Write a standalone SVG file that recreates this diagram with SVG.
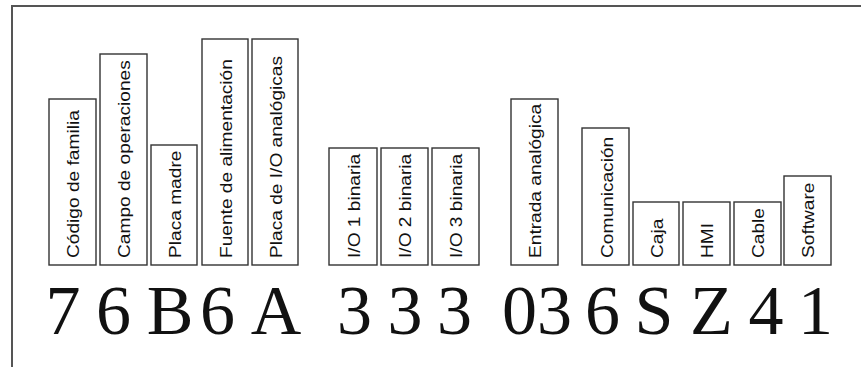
<svg xmlns="http://www.w3.org/2000/svg" width="861" height="367" viewBox="0 0 861 367">
<style>
.box{fill:#ffffff;stroke:#333333;stroke-width:1.4}
.lbl{font-family:"Liberation Sans",Arial,sans-serif;font-size:16.5px;fill:#111111}
.dig{font-family:"Liberation Serif","Times New Roman",serif;font-size:70px;fill:#111111;text-anchor:middle}
.frame{fill:none;stroke:#555555;stroke-width:2}
</style>
<rect x="0" y="0" width="861" height="367" fill="#ffffff"/>
<path class="frame" d="M12,367 V6 H861"/>
<g id="n1"><rect class="box" x="49" y="99" width="47" height="166"/><text class="lbl" transform="translate(79,258) rotate(-90) scale(1.16,1)">Código de familia</text><text class="dig" x="63" y="334">7</text></g>
<g id="n2"><rect class="box" x="100" y="54" width="47" height="211"/><text class="lbl" transform="translate(130,258) rotate(-90) scale(1.16,1)">Campo de operaciones</text><text class="dig" x="113.5" y="334">6</text></g>
<g id="n3"><rect class="box" x="151" y="145" width="46" height="120"/><text class="lbl" transform="translate(180.5,258) rotate(-90) scale(1.16,1)">Placa madre</text><text class="dig" x="170" y="334">B</text></g>
<g id="n4"><rect class="box" x="202" y="39" width="46" height="226"/><text class="lbl" transform="translate(231.5,258) rotate(-90) scale(1.16,1)">Fuente de alimentación</text><text class="dig" x="217.5" y="334">6</text></g>
<g id="n5"><rect class="box" x="252" y="39" width="46" height="226"/><text class="lbl" transform="translate(281.5,258) rotate(-90) scale(1.16,1)">Placa de I/O analógicas</text><text class="dig" x="276" y="334">A</text></g>
<g id="n6"><rect class="box" x="329" y="148" width="48" height="117"/><text class="lbl" transform="translate(359.5,258) rotate(-90) scale(1.16,1)">I/O 1 binaria</text><text class="dig" x="354.5" y="334">3</text></g>
<g id="n7"><rect class="box" x="381" y="148" width="47" height="117"/><text class="lbl" transform="translate(411,258) rotate(-90) scale(1.16,1)">I/O 2 binaria</text><text class="dig" x="405" y="334">3</text></g>
<g id="n8"><rect class="box" x="432" y="148" width="47" height="117"/><text class="lbl" transform="translate(462,258) rotate(-90) scale(1.16,1)">I/O 3 binaria</text><text class="dig" x="454.5" y="334">3</text></g>
<g id="n9"><rect class="box" x="511" y="99" width="47" height="166"/><text class="lbl" transform="translate(541,258) rotate(-90) scale(1.16,1)">Entrada analógica</text><text class="dig" x="537" y="334">03</text></g>
<g id="n10"><rect class="box" x="582" y="128" width="47" height="137"/><text class="lbl" transform="translate(612.5,258) rotate(-90) scale(1.16,1)">Comunicación</text><text class="dig" x="602.5" y="334">6</text></g>
<g id="n11"><rect class="box" x="633" y="202" width="46" height="63"/><text class="lbl" transform="translate(662.5,258) rotate(-90) scale(1.16,1)">Caja</text><text class="dig" x="654" y="334">S</text></g>
<g id="n12"><rect class="box" x="683" y="202" width="47" height="63"/><text class="lbl" transform="translate(713,258) rotate(-90) scale(1.16,1)">HMI</text><text class="dig" x="711.5" y="334">Z</text></g>
<g id="n13"><rect class="box" x="734" y="202" width="47" height="63"/><text class="lbl" transform="translate(764,258) rotate(-90) scale(1.16,1)">Cable</text><text class="dig" x="766" y="334">4</text></g>
<g id="n14"><rect class="box" x="784" y="176" width="47" height="89"/><text class="lbl" transform="translate(814,258) rotate(-90) scale(1.16,1)">Software</text><text class="dig" x="815.5" y="334">1</text></g>
<g id="connectors"/>
</svg>
